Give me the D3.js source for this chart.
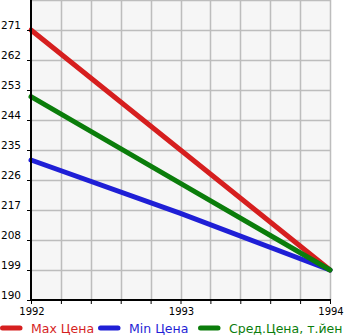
<!DOCTYPE html>
<html>
<head>
<meta charset="utf-8">
<script src="https://cdn.jsdelivr.net/npm/d3@7"></script>
<style>
  html, body { margin: 0; padding: 0; background: #fff; }
  svg { display: block; }
  text { font-family: "DejaVu Sans", sans-serif; }
</style>
</head>
<body>
<svg id="chart" width="345" height="335"></svg>
<script>
// Price history, thousand yen
const years = [1992, 1993, 1994];
const maxPrice = [271, 235, 199];
const minPrice = [232, 216, 199];
const avgPrice = [251, 225, 199];
const yTicks = [190, 199, 208, 217, 226, 235, 244, 253, 262, 271];
const seriesNames = ["Max Цена", "Min Цена", "Сред.Цена, т.йен"];
const seriesColors = ["#d61f1f", "#1f1fd6", "#0b7d0b"];

const svg = d3.select("#chart");
const plotL = 31, plotR = 330, plotT = 0, plotB = 300;

const x = d3.scaleLinear().domain([1992, 1994]).range([plotL, plotR]);
const y = d3.scaleLinear().domain([190, 280]).range([plotB, plotT]);

// plot background
svg.append("rect")
  .attr("x", plotL).attr("y", plotT)
  .attr("width", plotR - plotL).attr("height", plotB - plotT)
  .attr("fill", "#f6f6f6");

// grid
const xGrid = d3.range(0, 11).map(i => 1992 + i * 0.2);
svg.append("g").selectAll("line").data(xGrid.slice(1)).join("line")
  .attr("x1", d => Math.round(x(d)) + 0.5).attr("x2", d => Math.round(x(d)) + 0.5)
  .attr("y1", plotT).attr("y2", plotB)
  .attr("stroke", "#bdbdbd").attr("stroke-width", 1.5);
const yGrid = d3.range(190, 281, 9);
svg.append("g").selectAll("line").data(yGrid.slice(1)).join("line")
  .attr("x1", plotL).attr("x2", plotR + 1)
  .attr("y1", d => Math.round(y(d)) + 0.5).attr("y2", d => Math.round(y(d)) + 0.5)
  .attr("stroke", "#bdbdbd").attr("stroke-width", 1.5);

// series lines
const line = d3.line().x((d, i) => x(years[i])).y(d => y(d));
[maxPrice, minPrice, avgPrice].forEach((s, k) => {
  svg.append("path").datum(s)
    .attr("d", line)
    .attr("fill", "none")
    .attr("stroke", seriesColors[k])
    .attr("stroke-width", 5)
    .attr("stroke-linecap", "round");
});

// bottom axis
const xAxis = d3.axisBottom(x).tickValues(xGrid).tickSize(4).tickFormat("");
const gx = svg.append("g").attr("transform", `translate(0,${plotB})`).call(xAxis);
gx.select(".domain").remove();
gx.selectAll(".tick line").attr("stroke", "#000");
svg.append("line").attr("x1", plotL - 1).attr("x2", plotR + 1)
  .attr("y1", plotB).attr("y2", plotB)
  .attr("stroke", "#000").attr("stroke-width", 2);

svg.append("g").selectAll("text").data(years).join("text")
  .attr("x", d => x(d) + 1).attr("y", 315)
  .attr("text-anchor", "middle")
  .attr("font-size", 10)
  .attr("fill", "#000")
  .text(d => d);

// left axis
const yAxis = d3.axisLeft(y).tickValues(yTicks).tickSize(4).tickFormat("");
const gy = svg.append("g").attr("transform", `translate(${plotL},0)`).call(yAxis);
gy.select(".domain").remove();
gy.selectAll(".tick line").attr("stroke", "#000");
svg.append("line").attr("x1", plotL).attr("x2", plotL)
  .attr("y1", plotT).attr("y2", plotB + 1)
  .attr("stroke", "#000").attr("stroke-width", 2);

svg.append("g").selectAll("text").data(yTicks).join("text")
  .attr("x", 1).attr("y", d => y(d) - 1)
  .attr("font-size", 10.5)
  .attr("fill", "#000")
  .text(d => d);

// legend
const legendX = [0, 98, 198];
seriesNames.forEach((name, k) => {
  const g = svg.append("g").attr("transform", `translate(${legendX[k]},328)`);
  g.append("line").attr("x1", 2.5).attr("x2", 20).attr("y1", 0).attr("y2", 0)
    .attr("stroke", seriesColors[k]).attr("stroke-width", 5).attr("stroke-linecap", "round");
  g.append("text").attr("x", 31).attr("y", 5)
    .attr("font-size", 12.5).attr("fill", seriesColors[k]).text(name);
});
</script>
</body>
</html>
